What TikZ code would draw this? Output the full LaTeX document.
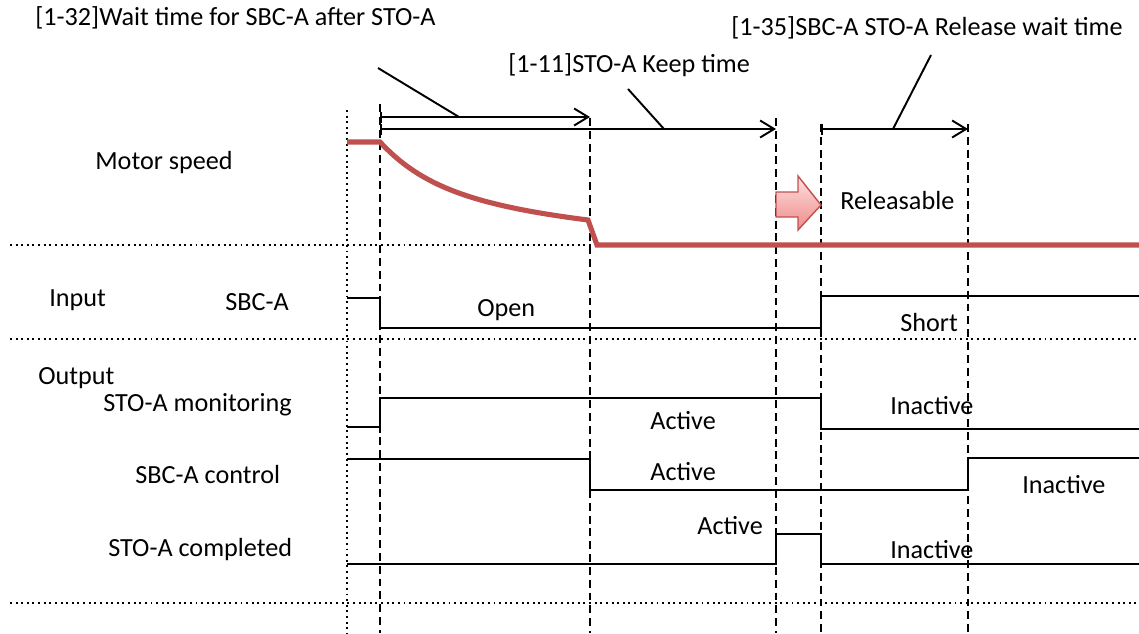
\documentclass[tikz,border=0pt]{standalone}
\usepackage{fontspec}
\setmainfont{Carlito}
\usetikzlibrary{arrows.meta}
\definecolor{speedred}{HTML}{C0504D}
\definecolor{pinklt}{HTML}{FDE0E0}
\definecolor{pinkdk}{HTML}{F08A8A}

\begin{document}
\begin{tikzpicture}[x=0.02cm,y=-0.02cm,
		lbl/.style={inner sep=0pt,anchor=west,font=\fontsize{14.9}{18}\selectfont},
		sig/.style={line width=1.1pt},
		guide/.style={line width=1.1pt,dash pattern=on 4.5pt off 2.8pt},
		sepline/.style={line width=1.1pt,dash pattern=on 1.1pt off 2.1pt},
		span/.style={line width=1.1pt,{Bar[width=2.2mm]}-{Straight Barb[length=2.8mm,width=3.4mm]}},
		lead/.style={line width=1.1pt}]
		\useasboundingbox (0,0) rectangle (1139,633);
		
		% separators between the rows
		\draw[sepline] (10,245) -- (1139,245);
		\draw[sepline] (10,339) -- (1139,339);
		\draw[sepline] (10,603) -- (1139,603);
		\draw[sepline] (347,110) -- (347,633);
		
		% timing guides
		\draw[guide] (380,104) -- (380,633);
		\draw[guide] (590,118) -- (590,633);
		\draw[guide] (776,118) -- (776,633);
		\draw[guide] (821,124) -- (821,633);
		\draw[guide] (968,124) -- (968,633);
		
		% parameter spans
		\coordinate (s32a) at (380,117);
		\coordinate (s32b) at (590,117);
		\coordinate (s11a) at (380,129);
		\coordinate (s11b) at (776,129);
		\coordinate (s35a) at (821,129);
		\coordinate (s35b) at (968,129);
		\draw[span] (s32a) -- (s32b);
		\draw[span] (s11a) -- (s11b);
		\draw[span] (s35a) -- (s35b);
		
		\node[lbl] (t32) at (35,18) {[1-32]Wait time for SBC-A after STO-A};
		\node[lbl] (t11) at (508,65) {[1-11]STO-A Keep time};
		\node[lbl] (t35) at (731,28) {[1-35]SBC-A STO-A Release wait time};
		\coordinate (l32) at (378,68);
		\coordinate (h32) at (459,117);
		\coordinate (l11) at (628,89);
		\coordinate (h11) at (664,129);
		\coordinate (l35) at (931,55);
		\coordinate (h35) at (893,129);
		\draw[lead] (l32) -- (h32);
		\draw[lead] (l11) -- (h11);
		\draw[lead] (l35) -- (h35);
		
		% motor speed
		\draw[speedred,line width=2.9pt] (347,142) -- (380,142)
		.. controls (420,185) and (470,205) .. (588,220) -- (597,245) -- (1139,245);
		\node[lbl] (motor) at (95,163) {Motor speed};
		\path[draw=speedred,line width=0.8pt,top color=pinklt,bottom color=pinkdk]
		(776,192) -- (798,192) -- (798,176) -- (821,205) -- (798,230) -- (798,217) -- (776,217) -- cycle;
		\node[lbl] (releasable) at (840,200) {Releasable};
		
		% input
		\node[lbl] (input) at (49,300) {Input};
		\node[lbl] (sbcin) at (225,302) {SBC-A};
		\draw[sig] (347,298) -- (380,298) -- (380,328) -- (821,328) -- (821,296) -- (1139,296);
		\node[lbl] (open) at (477,310) {Open};
		\node[lbl] (short) at (900,322) {Short};
		
		% outputs
		\node[lbl] (output) at (38,378) {Output};
		\node[lbl] (stomon) at (103,405) {STO-A monitoring};
		\draw[sig] (347,427) -- (380,427) -- (380,398) -- (821,398) -- (821,429) -- (1139,429);
		\node[lbl] (act1) at (650,421) {Active};
		\node[lbl] (inact1) at (890,406) {Inactive};
		
		\node[lbl] (sbcctl) at (135,474) {SBC-A control};
		\draw[sig] (347,459) -- (590,459) -- (590,490) -- (968,490) -- (968,458) -- (1139,458);
		\node[lbl] (act2) at (650,472) {Active};
		\node[lbl] (inact2) at (1022,485) {Inactive};
		
		\node[lbl] (stocomp) at (108,550) {STO-A completed};
		\draw[sig] (347,564) -- (776,564) -- (776,534) -- (821,534) -- (821,564) -- (1139,564);
		\node[lbl] (act3) at (697,526) {Active};
		\node[lbl] (inact3) at (890,550) {Inactive};
\end{tikzpicture}
\end{document}
